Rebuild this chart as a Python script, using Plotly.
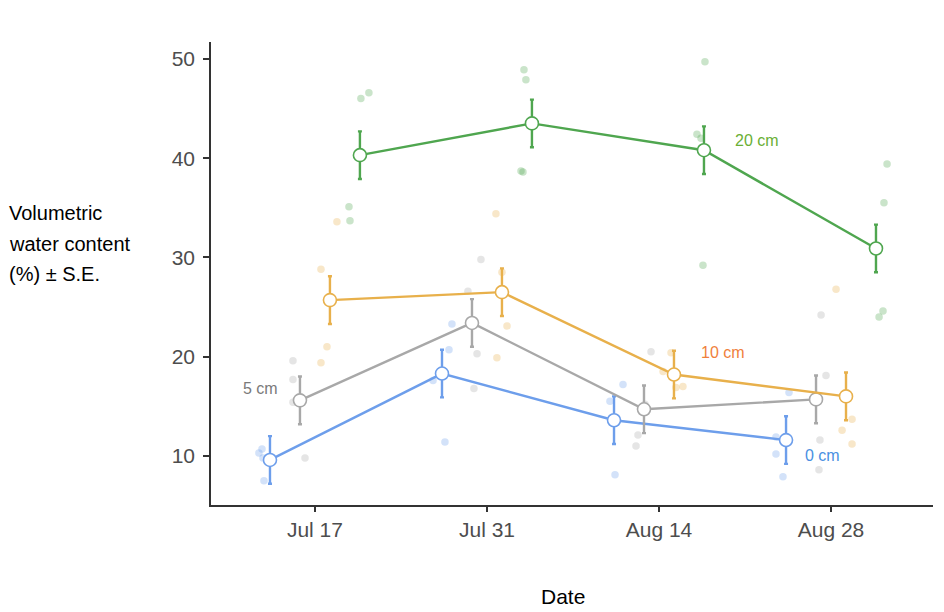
import pandas as pd
import plotly.graph_objects as go

# ---- data ----
dates = ["2019-07-17", "2019-07-31", "2019-08-14", "2019-08-28"]
tick_labels = ["Jul 17", "Jul 31", "Aug 14", "Aug 28"]
depths = ["0 cm", "5 cm", "10 cm", "20 cm"]

mean_0 = [9.6, 18.3, 13.6, 11.6]
mean_5 = [15.6, 23.4, 14.7, 15.7]
mean_10 = [25.7, 26.5, 18.2, 16.0]
mean_20 = [40.3, 43.5, 40.8, 30.9]
se_0 = [2.4, 2.4, 2.4, 2.4]
se_5 = [2.4, 2.4, 2.4, 2.4]
se_10 = [2.4, 2.4, 2.4, 2.4]
se_20 = [2.4, 2.4, 2.4, 2.4]

# raw observations per date (4 each), values
raw_0 = [[10.3, 10.7, 9.8, 7.5], [23.3, 20.7, 17.6, 11.4], [17.2, 15.5, 8.1, 13.6], [16.4, 11.9, 10.2, 7.9]]
raw_5 = [[19.6, 17.7, 15.4, 9.8], [29.8, 26.6, 20.3, 16.8], [20.5, 12.1, 11.0, 15.2], [24.2, 18.1, 11.6, 8.6]]
raw_10 = [[33.6, 28.8, 21.0, 19.4], [34.4, 28.5, 23.1, 19.9], [20.4, 18.5, 17.0, 16.9], [26.8, 13.7, 12.6, 11.2]]
raw_20 = [[46.0, 46.6, 35.1, 33.7], [48.9, 47.9, 38.6, 38.7], [49.7, 42.4, 42.0, 29.2], [39.4, 35.5, 24.6, 24.0]]
jit_0 = [[-4.56, -4.31, -4.23, -4.15], [-2.85, -3.09, -4.39, -3.42], [-2.93, -3.99, -3.58, -3.66], [-3.42, -4.48, -4.48, -3.91]]
jit_5 = [[-1.79, -1.79, -1.79, -0.81], [-0.49, -1.55, -0.81, -1.06], [-0.65, -1.71, -1.87, -1.14], [-0.81, -0.41, -0.90, -0.98]]
jit_10 = [[1.79, 0.49, 0.98, 0.49], [0.73, 1.22, 1.63, 0.81], [0.98, 0.33, 1.95, 1.38], [0.41, 1.71, 0.90, 1.71]]
jit_20 = [[3.74, 4.39, 2.77, 2.85], [3.01, 3.17, 2.93, 2.77], [3.74, 3.09, 3.42, 3.58], [4.56, 4.31, 4.23, 3.91]]

# ---- styling ----
line_colors = ["#6D9EEB", "#A8A8A8", "#E8B04B", "#4FA64F"]
label_colors = ["#4A90E2", "#7A7A7A", "#F07F3C", "#6AAF35"]
dodge = [-3.66, -1.22, 1.22, 3.66]
font_family = "Liberation Sans, Arial, sans-serif"

means = [mean_0, mean_5, mean_10, mean_20]
ses = [se_0, se_5, se_10, se_20]
raws = [raw_0, raw_5, raw_10, raw_20]
jits = [jit_0, jit_5, jit_10, jit_20]

base = pd.to_datetime(dates)


def shift(d, days):
    return d + pd.Timedelta(hours=days * 24)


fig = go.Figure()

# raw points
for i in range(4):
    xs, ys = [], []
    for k in range(4):
        for v, j in zip(raws[i][k], jits[i][k]):
            xs.append(shift(base[k], j))
            ys.append(v)
    fig.add_trace(go.Scatter(
        x=xs, y=ys, mode="markers", showlegend=False, hoverinfo="skip",
        marker=dict(size=7.5, color=line_colors[i], opacity=0.3, line=dict(width=0)),
    ))

# lines + error bars + mean markers
for i in range(4):
    xs = [shift(base[k], dodge[i]) for k in range(4)]
    fig.add_trace(go.Scatter(
        x=xs, y=means[i], mode="lines+markers", name=depths[i], showlegend=False,
        line=dict(color=line_colors[i], width=2.4),
        marker=dict(size=13, color="white", line=dict(color=line_colors[i], width=1.6)),
        error_y=dict(type="data", array=ses[i], color=line_colors[i], thickness=2.4, width=2),
    ))

# depth labels
label_pos = [(3, -0.7, 10.0), (0, -4.4, 16.75), (2, 5.2, 20.4), (2, 8.0, 41.8)]
for i, (k, off, yv) in enumerate(label_pos):
    fig.add_annotation(x=shift(base[k], off), y=yv, text=depths[i], showarrow=False,
                       font=dict(size=16, color=label_colors[i], family=font_family))

# y-axis title as three left-aligned lines
for txt, yy in [("Volumetric", 0.631), ("water content", 0.564), ("(%) ± S.E.", 0.499)]:
    fig.add_annotation(xref="paper", yref="paper", x=-0.283, y=yy, xanchor="left", yanchor="middle",
                       text=txt, showarrow=False, font=dict(size=20, color="black", family=font_family))

# x-axis title
fig.add_annotation(xref="paper", yref="paper", x=0.487, y=-0.197, xanchor="center", yanchor="middle",
                   text="Date", showarrow=False, font=dict(size=21, color="black", family=font_family))

x0 = shift(base[0], -8.46)
x1 = shift(base[0], 50.3)

fig.update_layout(
    width=944, height=612,
    margin=dict(l=203, r=19, t=34, b=115),
    plot_bgcolor="white", paper_bgcolor="white",
    font=dict(family=font_family),
    xaxis=dict(
        type="date", range=[x0, x1], tickvals=list(base), ticktext=tick_labels,
        showgrid=False, zeroline=False, showline=True, linecolor="#333333", linewidth=1.5,
        ticks="outside", ticklen=5, tickwidth=1.5, tickcolor="#333333",
        tickfont=dict(size=21, color="#4D4D4D"),
    ),
    yaxis=dict(
        range=[5.06, 51.7], tickvals=[10, 20, 30, 40, 50],
        showgrid=False, zeroline=False, showline=True, linecolor="#333333", linewidth=1.5,
        ticks="outside", ticklen=6, tickwidth=1.5, tickcolor="#333333",
        ticklabelstandoff=4,
        tickfont=dict(size=21, color="#4D4D4D"),
    ),
)

fig.write_html("out.html")
